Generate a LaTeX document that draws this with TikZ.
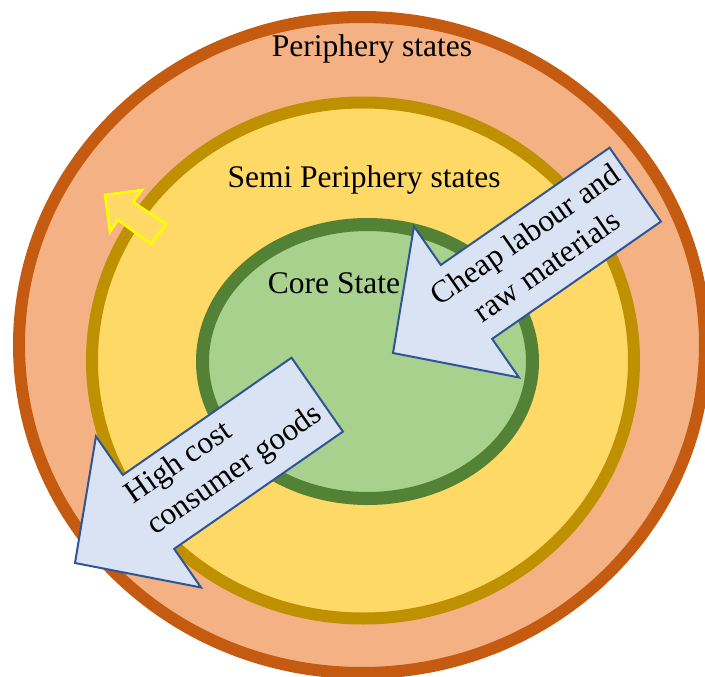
\documentclass[tikz,border=0pt]{standalone}
\usepackage{fontspec}
\setmainfont{Liberation Serif}
\definecolor{perfill}{HTML}{F4B183}
\definecolor{perline}{HTML}{C55A11}
\definecolor{semifill}{HTML}{FFD966}
\definecolor{semiline}{HTML}{BF9000}
\definecolor{corefill}{HTML}{A9D18E}
\definecolor{coreline}{HTML}{538135}
\definecolor{arrfill}{HTML}{DAE3F3}
\definecolor{arrline}{HTML}{2F5597}
\definecolor{hiyellow}{HTML}{FFFF00}
\tikzset{
  lbl/.style={font=\fontsize{31.5}{38}\selectfont, inner sep=0pt, text=black},
  blockarrow/.style={fill=arrfill, draw=arrline, line width=2pt, line join=miter},
}
\begin{document}
\begin{tikzpicture}[x=1pt,y=-1pt]
\useasboundingbox (0,0) rectangle (705,677);
% rings
\draw[fill=perfill, draw=perline, line width=12pt] (362,345) ellipse [x radius=343, y radius=328];
\draw[fill=semifill, draw=semiline, line width=12pt] (363,360.5) ellipse [x radius=271, y radius=258];
\draw[fill=corefill, draw=coreline, line width=13pt] (367.5,361.5) ellipse [x radius=165, y radius=137];
% labels
\node[lbl, anchor=base] (per) at (372,57) {Periphery states};
\node[lbl, anchor=base] (semi) at (364,187) {Semi Periphery states};
\node[lbl, anchor=base] (core) at (334,293) {Core State};
% arrow 1: cheap labour
\begin{scope}[shift={(393,353)}, rotate=34.8]
  \draw[blockarrow] (0,0) -- (89.5,-92) -- (89.5,-45) -- (295,-45) -- (295,45) -- (89.5,45) -- (89.5,92) -- cycle;
  \node[lbl, transform shape, align=center] (cheap) at (176,-3) {Cheap labour and\\raw materials};
\end{scope}
% arrow 2: high cost goods
\begin{scope}[shift={(75,563)}, rotate=34.8]
  \draw[blockarrow] (0,0) -- (89.5,-92) -- (89.5,-45) -- (295,-45) -- (295,45) -- (89.5,45) -- (89.5,92) -- cycle;
  \node[lbl, transform shape, align=left] (high) at (184,-3) {High cost\\consumer goods};
\end{scope}
% small yellow arrow
\draw[fill=semifill, draw=hiyellow, line width=2.5pt, line join=miter]
  (105,195) -- (142,190) -- (133,202) -- (166,224) -- (151,244) -- (118,220) -- (110,232) -- cycle;
\end{tikzpicture}
\end{document}
